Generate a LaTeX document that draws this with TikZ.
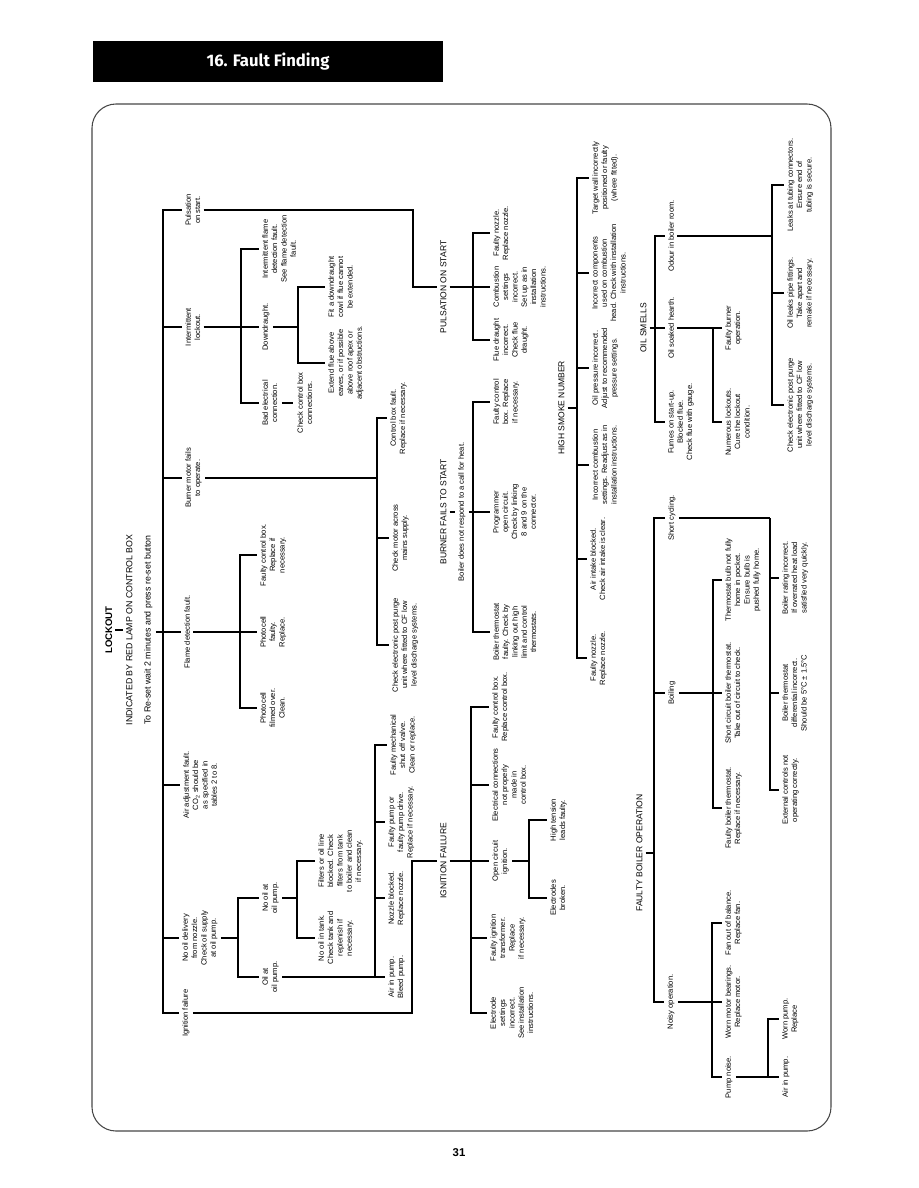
\documentclass[tikz,border=0pt]{standalone}
\usepackage{fontspec}
\setmainfont{Liberation Sans}
\newfontfamily\hdrfont{Fira Sans}

\begin{document}
\begin{tikzpicture}[x=0.75pt,y=-0.75pt,line width=1pt,
  lf/.style={rotate=90,anchor=north,align=center,inner sep=2pt,font=\fontsize{5.7}{7}\selectfont},
  hd/.style={rotate=90,anchor=north,inner sep=2pt,font=\fontsize{6.4}{8}\selectfont},
  tl/.style={rotate=90,anchor=north,inner sep=2pt,font=\fontsize{6.6}{8}\selectfont}]
\useasboundingbox (0,0) rectangle (918,1188);
\node[fill=black,text=white,minimum width=262.5pt,minimum height=30.75pt,inner sep=0pt,font=\hdrfont\bfseries\fontsize{12.5}{14}\selectfont] (hdr) at (268,61.5) {16. Fault Finding};
\draw[gray!55!black,line width=0.8pt,rounded corners=18pt] (92,104) rectangle (831,1131);
\node[font=\bfseries\fontsize{8.5}{10}\selectfont] (pg) at (459,1153) {31};

\node[rotate=90,anchor=north,inner sep=2pt,font=\bfseries\fontsize{7.2}{8}\selectfont] (lock) at (102,630) {LOCKOUT};
\node[tl] (ind) at (123,630) {INDICATED BY RED LAMP ON CONTROL BOX};
\node[tl] (reset) at (141,630) {To Re-set wait 2 minutes and press re-set button};
\coordinate (bMain) at (163,632);
\draw (lock.south) -- (ind.north);
\draw (reset.south |- bMain) -- (bMain);

\node[lf] (pulse) at (182,210) {Pulsation\\on start.};
\node[lf] (inter) at (182,327) {Intermittent\\lockout.};
\node[lf] (motor) at (182,478) {Burner motor fails\\to operate.};
\node[lf] (flame) at (181,632) {Flame detection fault.};
\node[lf] (adjust) at (180,785) {Air adjustment fault.\\CO\textsubscript{2} should be\\as specified in\\tables 2 to 8.};
\node[lf] (nooil) at (179,938) {No oil delivery\\from nozzle.\\Check oil supply\\at oil pump.};
\node[lf] (ignf) at (179,1013) {Ignition failure};
\draw (bMain) |- (pulse.north);
\draw (bMain) |- (inter.north);
\draw (bMain) |- (motor.north);
\draw (bMain) -- (flame.north);
\draw (bMain) |- (adjust.north);
\draw (bMain) |- (nooil.north);
\draw (bMain) |- (ignf.north);

\coordinate (bInter) at (241,327);
\node[lf] (iflame) at (259,249) {Intermittent flame\\detection fault.\\See flame detection\\fault.};
\node[lf] (down) at (259,327) {Downdraught.};
\node[lf] (badel) at (259,403) {Bad electrical\\connection.};
\node[lf] (chkbox) at (294,403) {Check control box\\connections.};
\draw (inter.south) -- (bInter);
\draw (bInter) |- (iflame.north);
\draw (bInter) -- (down.north);
\draw (bInter) |- (badel.north);
\draw[line width=1.8pt,shorten <=1pt,shorten >=1pt] (badel.south) -- (chkbox.north);
\coordinate (bDown) at (298,327);
\node[lf] (cowl) at (325,287) {Fit a downdraught\\cowl if flue cannot\\be extended.};
\node[lf] (extend) at (325,363) {Extend flue above\\eaves, or if possible\\above roof apex or\\adjacent obstructions.};
\draw (down.south) -- (bDown);
\draw (bDown) |- (cowl.north);
\draw (bDown) |- (extend.north);

\coordinate (bMotor) at (377,478);
\node[lf] (ctlfault) at (387,418) {Control box fault.\\Replace if necessary.};
\node[lf] (mains) at (389,538) {Check motor across\\mains supply.};
\node[lf] (purgeA) at (389,645) {Check electronic post purge\\unit where fitted to CF low\\level discharge systems.};
\draw (motor.south) -- (bMotor);
\draw (bMotor) |- (ctlfault.north);
\draw (bMotor) |- (mains.north);
\draw (bMotor) |- (purgeA.north);

\coordinate (bFlame) at (240,632);
\node[lf] (fcbox) at (257,555) {Faulty control box.\\Replace if\\necessary.};
\node[lf] (pcfaulty) at (257,632) {Photocell\\faulty.\\Replace.};
\node[lf] (pcfilm) at (257,708) {Photocell\\filmed over.\\Clean.};
\draw (flame.south) -- (bFlame);
\draw (bFlame) |- (fcbox.north);
\draw (bFlame) -- (pcfaulty.north);
\draw (bFlame) |- (pcfilm.north);

\coordinate (bNoOil) at (238,938);
\node[lf] (nopump) at (259,898) {No oil at\\oil pump.};
\node[lf] (oilat) at (259,977) {Oil at\\oil pump.};
\draw (nooil.south) -- (bNoOil);
\draw (bNoOil) |- (nopump.north);
\draw (bNoOil) |- (oilat.north);
\coordinate (bNoPump) at (297,898);
\node[lf] (filters) at (315,861) {Filters or oil line\\blocked. Check\\filters from tank\\to boiler and clean\\if necessary.};
\node[lf] (notank) at (315,938) {No oil in tank.\\Check tank and\\replenish if\\necessary.};
\draw (nopump.south) -- (bNoPump);
\draw (bNoPump) |- (filters.north);
\draw (bNoPump) |- (notank.north);
\coordinate (bOilAt) at (375,977);
\node[lf] (airpump) at (385,977) {Air in pump.\\Bleed pump.};
\node[lf] (nozblk) at (385,898) {Nozzle blocked.\\Replace nozzle.};
\node[lf] (pumpdrv) at (385,822) {Faulty pump or\\faulty pump drive.\\Replace if necessary.};
\node[lf] (shutoff) at (387,745) {Faulty mechanical\\shut off valve.\\Clean or replace.};
\draw (oilat.south) -- (bOilAt);
\draw (bOilAt) -- (airpump.north);
\draw (bOilAt) |- (nozblk.north);
\draw (bOilAt) |- (pumpdrv.north);
\draw (bOilAt) |- (shutoff.north);

\coordinate (kIgn) at (412,861);
\node[hd] (tIgn) at (437,861) {IGNITION FAILURE};
\coordinate (bIgn) at (471,861);
\draw (ignf.south) -| (kIgn) -- (tIgn.north);
\draw (tIgn.south) -- (bIgn);
\node[lf] (elset) at (487,1013) {Electrode\\settings\\incorrect.\\See installation\\instructions.};
\node[lf] (ignxf) at (487,938) {Faulty ignition\\transformer.\\Replace\\if necessary.};
\node[lf] (opencct) at (489,861) {Open circuit\\ignition.};
\node[lf] (elconn) at (489,785) {Electrical connections\\not properly\\made in\\control box.};
\node[lf] (fcboxB) at (489,707) {Faulty control box.\\Replace control box.};
\draw (bIgn) |- (elset.north);
\draw (bIgn) |- (ignxf.north);
\draw (bIgn) -- (opencct.north);
\draw (bIgn) |- (elconn.north);
\draw (bIgn) |- (fcboxB.north);
\coordinate (bOpen) at (529,861);
\node[lf] (htlead) at (547,820) {High tension\\leads faulty.};
\node[lf] (elbrk) at (547,898) {Electrodes\\broken.};
\draw (opencct.south) -- (bOpen);
\draw (bOpen) |- (htlead.north);
\draw (bOpen) |- (elbrk.north);

\node[hd] (tBurn) at (437,512) {BURNER FAILS TO START};
\node[lf] (tBurnB) at (455,512) {Boiler does not respond to a call for heat.};
\coordinate (bBurn) at (473,512);
\draw (tBurn.south) -- (tBurnB.north);
\draw (tBurnB.south) -- (bBurn);
\node[lf] (fcboxC) at (490,402) {Faulty control\\box. Replace\\if necessary.};
\node[lf] (progr) at (490,512) {Programmer\\open circuit.\\Check by linking\\8 and 9 on the\\connector.};
\node[lf] (bstat) at (490,632) {Boiler thermostat\\faulty. Check by\\linking out high\\limit and control\\thermostats.};
\draw (bBurn) |- (fcboxC.north);
\draw (bBurn) -- (progr.north);
\draw (bBurn) |- (bstat.north);

\coordinate (kPulse) at (413,287);
\node[hd] (tPulse) at (437,287) {PULSATION ON START};
\coordinate (bPulse) at (473,287);
\draw (pulse.south) -| (kPulse) -- (tPulse.north);
\draw (tPulse.south) -- (bPulse);
\node[lf] (fnoz) at (490,233) {Faulty nozzle.\\Replace nozzle.};
\node[lf] (combset) at (490,287) {Combustion\\settings\\incorrect.\\Set up as in\\installation\\instructions.};
\node[lf] (flue) at (490,340) {Flue draught\\incorrect.\\Check flue\\draught.};
\draw (bPulse) |- (fnoz.north);
\draw (bPulse) -- (combset.north);
\draw (bPulse) |- (flue.north);

\node[hd] (tSmoke) at (555,408) {HIGH SMOKE NUMBER};
\coordinate (bSmoke) at (577,408);
\draw (tSmoke.south) -- (bSmoke);
\node[lf] (target) at (589,178) {Target wall incorrectly\\positioned or faulty\\(where fitted).};
\node[lf] (incomp) at (589,273) {Incorrect components\\used on combustion\\head. Check with installation\\instructions.};
\node[lf] (oilpr) at (589,368) {Oil pressure incorrect.\\Adjust to recommended\\pressure settings.};
\node[lf] (incomb) at (589,465) {Incorrect combustion\\settings. Readjust as in\\installation instructions.};
\node[lf] (airint) at (587,559) {Air intake blocked.\\Check air intake is clear.};
\node[lf] (fnozB) at (587,658) {Faulty nozzle.\\Replace nozzle.};
\draw (bSmoke) |- (target.north);
\draw (bSmoke) |- (incomp.north);
\draw (bSmoke) |- (oilpr.north);
\draw (bSmoke) |- (incomb.north);
\draw (bSmoke) |- (airint.north);
\draw (bSmoke) |- (fnozB.north);

\node[hd] (tOil) at (637,328) {OIL SMELLS};
\coordinate (bOil) at (655,328);
\draw (tOil.south) -- (bOil);
\node[lf] (odour) at (665,236) {Odour in boiler room.};
\node[lf] (hearth) at (665,328) {Oil soaked hearth.};
\node[lf] (fumes) at (665,422) {Fumes on start-up.\\Blocked flue.\\Check flue with gauge.};
\draw (bOil) |- (odour.north);
\draw (bOil) -- (hearth.north);
\draw (bOil) |- (fumes.north);
\coordinate (bOdour) at (772,236);
\node[lf] (leaks) at (784,185) {Leaks at tubing connectors.\\Ensure end of\\tubing is secure.};
\node[lf] (pipefit) at (784,293) {Oil leaks pipe fittings.\\Take apart and\\remake if necessary.};
\node[lf] (purgeB) at (784,405) {Check electronic post purge\\unit where fitted to CF low\\level discharge systems.};
\draw (odour.south) -- (bOdour);
\draw (bOdour) |- (leaks.north);
\draw (bOdour) |- (pipefit.north);
\draw (bOdour) |- (purgeB.north);
\coordinate (bHearth) at (713,328);
\node[lf] (fburn) at (722,328) {Faulty burner\\operation.};
\node[lf] (lockouts) at (722,422) {Numerous lockouts.\\Cure the lockout\\condition.};
\draw (hearth.south) -- (bHearth);
\draw (bHearth) -- (fburn.north);
\draw (bHearth) |- (lockouts.north);

\node[hd] (tBoil) at (633,853) {FAULTY BOILER OPERATION};
\coordinate (bBoil) at (654,853);
\draw (tBoil.south) -- (bBoil);
\node[lf] (shortcyc) at (665,518) {Short cycling.};
\node[lf] (boiling) at (665,693) {Boiling};
\node[lf] (noisy) at (664,1002) {Noisy operation.};
\draw (bBoil) |- (shortcyc.north);
\draw (bBoil) |- (boiling.north);
\draw (bBoil) |- (noisy.north);
\coordinate (bShort) at (770,518);
\node[lf] (rating) at (779,578) {Boiler rating incorrect.\\If overrated heat load\\satisfied very quickly.};
\node[lf] (diff) at (779,693) {Boiler thermostat\\differential incorrect.\\Should be 5°C ± 1.5°C};
\node[lf] (extctl) at (779,790) {External controls not\\operating correctly.};
\draw (shortcyc.south) -- (bShort);
\draw (bShort) |- (rating.north);
\draw (bShort) |- (diff.north);
\draw (bShort) |- (extctl.north);
\coordinate (bBoiling) at (713,693);
\node[lf] (bulb) at (722,580) {Thermostat bulb not fully\\home in pocket.\\Ensure bulb is\\pushed fully home.};
\node[lf] (shortst) at (722,693) {Short circuit boiler thermostat.\\Take out of circuit to check.};
\node[lf] (fbstat) at (722,808) {Faulty boiler thermostat.\\Replace if necessary.};
\draw (boiling.south) -- (bBoiling);
\draw (bBoiling) |- (bulb.north);
\draw (bBoiling) -- (shortst.north);
\draw (bBoiling) |- (fbstat.north);
\coordinate (bNoisy) at (712,1002);
\node[lf] (fan) at (722,923) {Fan out of balance.\\Replace fan.};
\node[lf] (bearing) at (722,1002) {Worn motor bearings.\\Replace motor.};
\node[lf] (pumpn) at (722,1077) {Pump noise.};
\draw (noisy.south) -- (bNoisy);
\draw (bNoisy) |- (fan.north);
\draw (bNoisy) -- (bearing.north);
\draw (bNoisy) |- (pumpn.north);
\coordinate (bPump) at (768,1077);
\node[lf] (wornp) at (779,1019) {Worn pump.\\Replace};
\node[lf] (airpB) at (779,1077) {Air in pump.};
\draw (pumpn.south) -- (bPump);
\draw (bPump) |- (wornp.north);
\draw (bPump) -- (airpB.north);
\end{tikzpicture}
\end{document}
